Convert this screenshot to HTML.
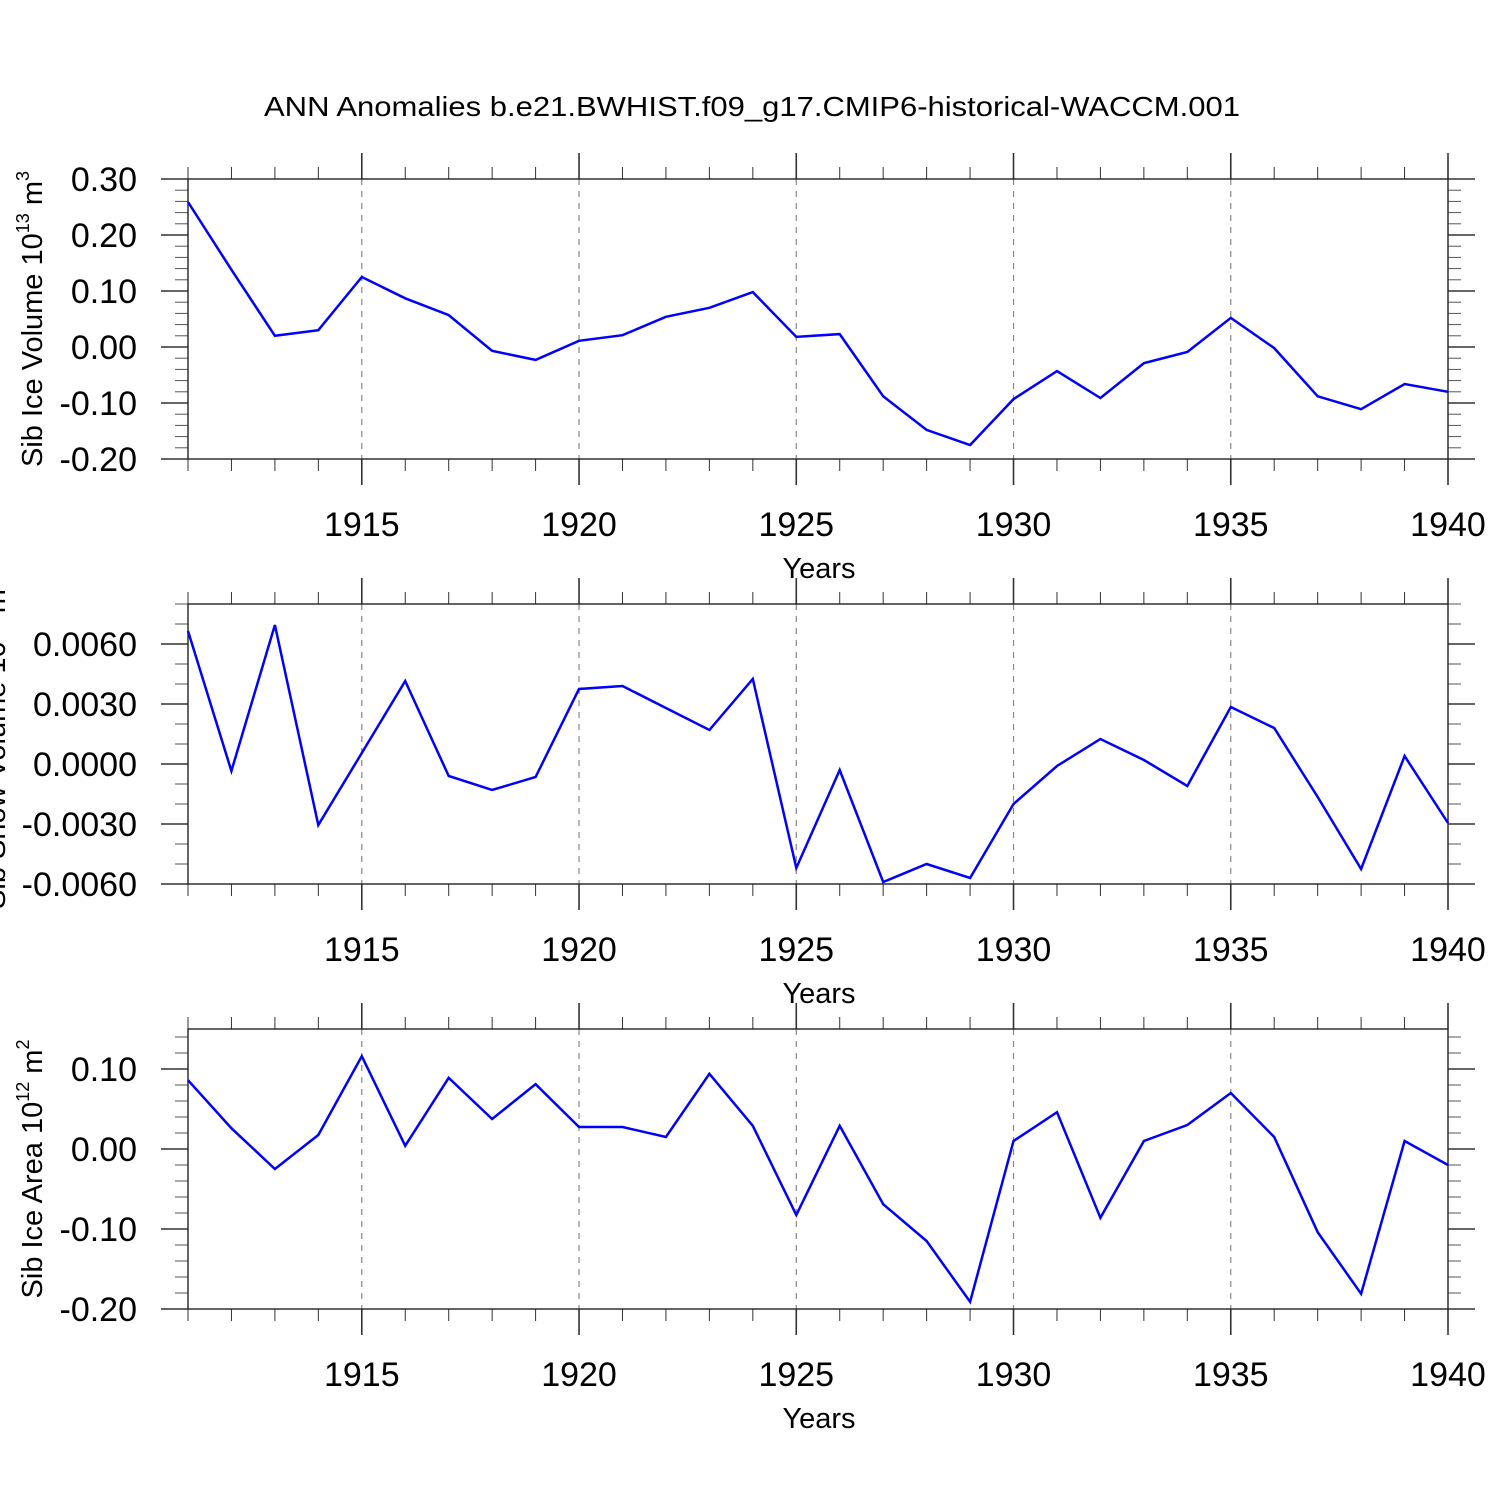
<!DOCTYPE html>
<html><head><meta charset="utf-8"><style>
body{margin:0;background:#fff}
svg{display:block;font-family:"Liberation Sans",sans-serif}
</style></head><body>
<svg id="chart" width="1500" height="1500" viewBox="0 0 1500 1500" xmlns="http://www.w3.org/2000/svg">
<rect width="1500" height="1500" fill="#fff"/>
<text x="752" y="116" font-size="28" text-anchor="middle" textLength="976" lengthAdjust="spacingAndGlyphs">ANN Anomalies b.e21.BWHIST.f09_g17.CMIP6-historical-WACCM.001</text>
</svg>
<script>
const years = [1911,1912,1913,1914,1915,1916,1917,1918,1919,1920,1921,1922,1923,1924,1925,1926,1927,1928,1929,1930,1931,1932,1933,1934,1935,1936,1937,1938,1939,1940];
const iceVolume = [0.259,0.138,0.020,0.030,0.125,0.087,0.057,-0.007,-0.023,0.011,0.021,0.054,0.070,0.098,0.018,0.023,-0.088,-0.148,-0.175,-0.093,-0.043,-0.091,-0.029,-0.009,0.052,-0.002,-0.088,-0.111,-0.066,-0.080];
const snowVolume = [0.00665,-0.00035,0.00695,-0.00305,0.00055,0.00415,-0.0006,-0.0013,-0.00065,0.00375,0.0039,0.0028,0.0017,0.00425,-0.0052,-0.0003,-0.0059,-0.005,-0.0057,-0.002,-0.0001,0.00125,0.0002,-0.0011,0.00285,0.0018,-0.00165,-0.00525,0.0004,-0.00295];
const iceArea = [0.086,0.026,-0.025,0.0175,0.116,0.004,0.089,0.0375,0.081,0.0275,0.0275,0.015,0.094,0.029,-0.0825,0.029,-0.069,-0.115,-0.191,0.01,0.046,-0.086,0.01,0.03,0.07,0.015,-0.104,-0.181,0.01,-0.02];
const yearTicks = [1915,1920,1925,1930,1935,1940];
const volTicks = ["0.30","0.20","0.10","0.00","-0.10","-0.20"];
const snowTicks = ["0.0060","0.0030","0.0000","-0.0030","-0.0060"];
const areaTicks = ["0.10","0.00","-0.10","-0.20"];

const svg = document.getElementById('chart');
const NS = 'http://www.w3.org/2000/svg';
function mk(tag, attrs, parent){
  const e = document.createElementNS(NS, tag);
  for (const k in attrs) e.setAttribute(k, attrs[k]);
  (parent||svg).appendChild(e);
  return e;
}
const X0 = 188, X1 = 1448;
const xs = y => X0 + (y - 1911) / (1940 - 1911) * (X1 - X0);

const panels = [
  {name:'ice-volume', top:179, ymin:-0.20, ymax:0.30, data:iceVolume, ticks:volTicks, minor:0.02, label:'Sib Ice Volume 10', sup:'13', unit:' m', usup:'3', labelX:42},
  {name:'snow-volume', top:604, ymin:-0.006, ymax:0.008, data:snowVolume, ticks:snowTicks, minor:0.001, label:'Sib Snow Volume 10', sup:'13', unit:' m', usup:'3', labelX:5},
  {name:'ice-area', top:1029, ymin:-0.20, ymax:0.15, data:iceArea, ticks:areaTicks, minor:0.02, label:'Sib Ice Area 10', sup:'12', unit:' m', usup:'2', labelX:42}
];

panels.forEach(p => {
  const H = 280, top = p.top, bot = top + H;
  const ys = v => bot - (v - p.ymin) / (p.ymax - p.ymin) * H;
  const g = mk('g', {});
  
  
  yearTicks.slice(0,5).forEach(yr => {
    const l = mk('line', {x1:xs(yr), x2:xs(yr), y1:top, y2:bot, stroke:'#888', 'stroke-width':1.2, 'stroke-dasharray':'6,6'}, g);
    
    
  });
  years.forEach(yr => {
    const major = yr % 5 === 0;
    const len = major ? 26 : 12;
    mk('line', {x1:xs(yr), x2:xs(yr), y1:top, y2:top-len, stroke:'#333', 'stroke-width':major?1.6:1}, g);
    mk('line', {x1:xs(yr), x2:xs(yr), y1:bot, y2:bot+len, stroke:'#333', 'stroke-width':major?1.6:1}, g);
  });
  const n = Math.floor((p.ymax - p.ymin) / p.minor + 1e-6);
  for (let i = 0; i <= n; i++) {
    const v = p.ymin + i * p.minor;
    if (v > p.ymax + 1e-9) continue;
    const y = ys(v);
    mk('line', {x1:X0-13, x2:X0, y1:y, y2:y, stroke:'#555', 'stroke-width':1}, g);
    mk('line', {x1:X1, x2:X1+13, y1:y, y2:y, stroke:'#555', 'stroke-width':1}, g);
  }
  p.ticks.forEach(t => {
    const y = ys(parseFloat(t));
    mk('line', {x1:X0-27, x2:X0, y1:y, y2:y, stroke:'#333', 'stroke-width':1.6}, g);
    mk('line', {x1:X1, x2:X1+27, y1:y, y2:y, stroke:'#333', 'stroke-width':1.6}, g);
    const tx = mk('text', {x:137, y:y+12, 'font-size':34, 'text-anchor':'end'}, g);
    tx.textContent = t;
    
    
  });
  const b = mk('rect', {x:X0, y:top, width:X1-X0, height:H, fill:'none', stroke:'#222', 'stroke-width':1.4}, g);
  
  
  yearTicks.forEach(yr => {
    const tx = mk('text', {x:xs(yr), y:bot+77, 'font-size':34, 'text-anchor':'middle'}, g);
    tx.textContent = yr;
    
    
  });
  const xt = mk('text', {x:819, y:bot+119, 'font-size':29, 'text-anchor':'middle'}, g);
  xt.textContent = 'Years';
  
  
  const yl = mk('text', {x:0, y:0, 'font-size':29, 'text-anchor':'middle', transform:`translate(${p.labelX},${top+H/2}) rotate(-90)`}, g);
  
  
  yl.appendChild(document.createTextNode(p.label));
  const s1 = mk('tspan', {'font-size':18, dy:-13}, yl); s1.textContent = p.sup;
  const s2 = mk('tspan', {dy:13}, yl); s2.textContent = p.unit;
  const s3 = mk('tspan', {'font-size':18, dy:-13}, yl); s3.textContent = p.usup;
  const pts = p.data.map((v,i) => xs(years[i]).toFixed(1) + ',' + ys(v).toFixed(1)).join(' ');
  const pl = mk('polyline', {points:pts, fill:'none', stroke:'#0000ff', 'stroke-width':2.5, 'stroke-linejoin':'miter'}, g);
  
  
});
</script>
</body></html>
